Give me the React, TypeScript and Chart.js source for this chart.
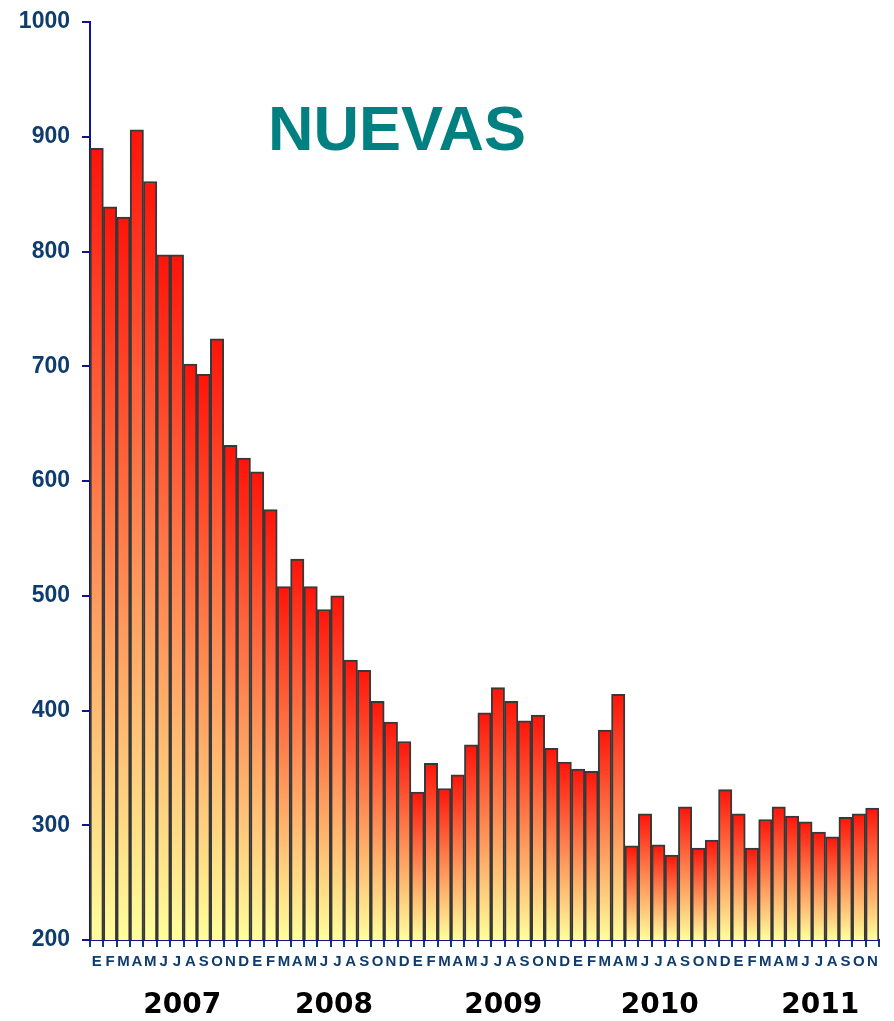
import React, { useEffect, useRef } from "react";
import { Chart, registerables } from "chart.js";

Chart.register(...registerables);

// ---- data ----
const monthLetters = ["E", "F", "M", "A", "M", "J", "J", "A", "S", "O", "N", "D"];
const values2007 = [890, 839, 830, 906, 861, 797, 797, 702, 693, 724, 631, 620];
const values2008 = [608, 575, 508, 532, 508, 488, 500, 444, 435, 408, 390, 373];
const values2009 = [329, 354, 332, 344, 370, 398, 420, 408, 391, 396, 367, 355];
const values2010 = [349, 347, 383, 414, 282, 310, 283, 274, 316, 280, 287, 331];
const values2011 = [310, 280, 305, 316, 308, 303, 294, 290, 307, 310, 315];
const yearLabels = ["2007", "2008", "2009", "2010", "2011"];
const yTickMin = 200;
const yTickMax = 1000;
const yTickStep = 100;
const titleText = "NUEVAS";

const seriesByYear = [values2007, values2008, values2009, values2010, values2011];
const allValues: number[] = seriesByYear.flat();
const allLabels: string[] = seriesByYear.flatMap((arr) => arr.map((_, i) => monthLetters[i]));

// year label anchors (in category units, layout only)
const yearAnchors = [6.4, 17.75, 30.4, 42.1, 54.1];

const NAVY = "#0f3c6e";
const AXIS = "#14148a";

const overlayPlugin = {
  id: "overlay",
  afterDraw(chart: any) {
    const ctx = chart.ctx;
    const xs = chart.scales.x;
    const x0 = xs.getPixelForValue(0);
    const step = xs.getPixelForValue(1) - x0;
    ctx.save();
    ctx.fillStyle = "#008080";
    ctx.font = "bold 63px 'Liberation Sans', Arial, sans-serif";
    ctx.textAlign = "center";
    ctx.textBaseline = "alphabetic";
    ctx.fillText(titleText, 397, 150);

    ctx.fillStyle = "#000000";
    ctx.font = "bold 28px 'DejaVu Sans', Verdana, sans-serif";
    yearLabels.forEach((y, i) => {
      ctx.fillText(y, x0 + yearAnchors[i] * step, 1013);
    });
    ctx.restore();
  },
};

export default function App() {
  const ref = useRef<HTMLCanvasElement | null>(null);

  useEffect(() => {
    if (!ref.current) return;
    const chart = new Chart(ref.current, {
      type: "bar",
      data: {
        labels: allLabels,
        datasets: [
          {
            data: allValues,
            backgroundColor: (c: any) => {
              const ch = c.chart;
              const ys = ch.scales && ch.scales.y;
              if (!ys || c.raw == null) return "#ff6040";
              const top = ys.getPixelForValue(c.raw);
              const bot = ys.getPixelForValue(yTickMin);
              if (!isFinite(top) || !isFinite(bot) || top === bot) return "#ff6040";
              const g = ch.ctx.createLinearGradient(0, top, 0, bot);
              g.addColorStop(0, "#ff140a");
              g.addColorStop(1, "#ffff9c");
              return g;
            },
            borderColor: "#383838",
            borderWidth: 2,
            barPercentage: 1,
            categoryPercentage: 1,
          },
        ],
      },
      options: {
        responsive: false,
        animation: false,
        layout: { padding: { left: 0, right: 15, top: 22, bottom: 0 } },
        plugins: {
          legend: { display: false },
          tooltip: { enabled: false },
          title: { display: false },
        },
        scales: {
          x: {
            type: "category",
            offset: true,
            grid: {
              display: true,
              offset: true,
              drawOnChartArea: false,
              drawTicks: true,
              tickLength: 7,
              color: NAVY,
              lineWidth: 2,
            },
            border: { display: true, color: AXIS, width: 2 },
            ticks: {
              autoSkip: false,
              maxRotation: 0,
              minRotation: 0,
              color: NAVY,
              padding: 6,
              font: { family: "'Liberation Sans', Arial, sans-serif", size: 15, weight: "bold" },
            },
            afterFit: (s: any) => {
              s.height = 81;
            },
          },
          y: {
            min: yTickMin,
            max: yTickMax,
            grid: {
              display: true,
              drawOnChartArea: false,
              drawTicks: true,
              tickLength: 8,
              color: AXIS,
              lineWidth: 2,
            },
            border: { display: true, color: AXIS, width: 2 },
            ticks: {
              stepSize: yTickStep,
              color: NAVY,
              padding: 12,
              callback: (v: any) => String(v),
              font: { family: "'Liberation Sans', Arial, sans-serif", size: 23, weight: "bold" },
            },
            afterFit: (s: any) => {
              s.width = 90;
              s.paddingTop = 0;
              s.paddingBottom = 0;
            },
          },
        },
      },
      plugins: [overlayPlugin],
    });
    return () => chart.destroy();
  }, []);

  return (
    <div style={{ position: "absolute", left: 0, top: 0, width: 894, height: 1021, background: "#ffffff" }}>
      <canvas ref={ref} width={894} height={1021} style={{ display: "block" }} />
    </div>
  );
}
